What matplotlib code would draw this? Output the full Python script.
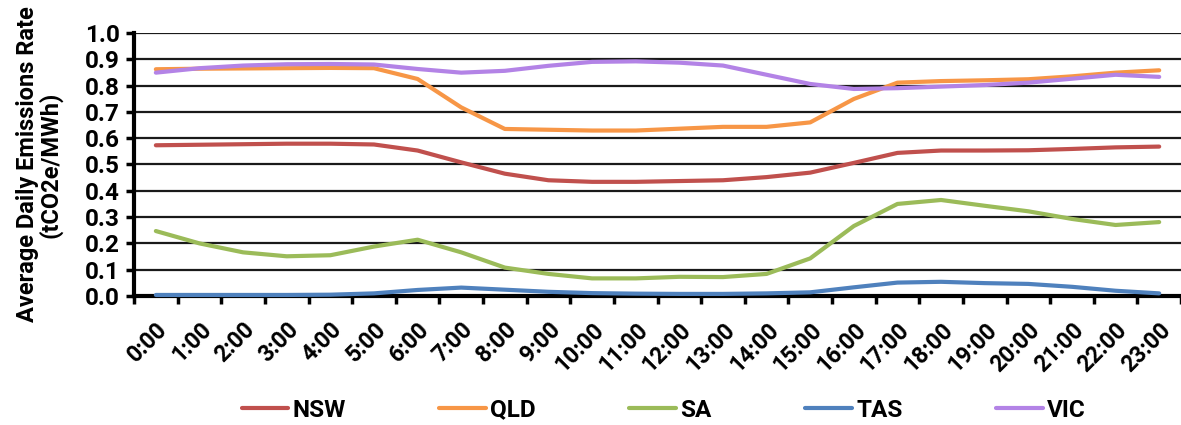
import matplotlib
matplotlib.use("Agg")
import matplotlib.pyplot as plt
from matplotlib.ticker import MultipleLocator, FixedLocator

plt.rcParams['font.family'] = ['Roboto', 'DejaVu Sans']

hours = [f"{h}:00" for h in range(24)]

nsw = [0.573, 0.575, 0.577, 0.579, 0.579, 0.576, 0.553, 0.508, 0.465, 0.440,
       0.434, 0.434, 0.437, 0.440, 0.452, 0.469, 0.506, 0.544, 0.553, 0.553,
       0.554, 0.559, 0.565, 0.568]
qld = [0.862, 0.864, 0.865, 0.866, 0.867, 0.866, 0.825, 0.717, 0.635, 0.632,
       0.629, 0.629, 0.636, 0.643, 0.643, 0.660, 0.749, 0.811, 0.817, 0.820,
       0.824, 0.835, 0.849, 0.858]
sa = [0.247, 0.200, 0.166, 0.151, 0.155, 0.188, 0.214, 0.166, 0.108, 0.084,
      0.067, 0.067, 0.073, 0.072, 0.084, 0.143, 0.266, 0.350, 0.365, 0.343,
      0.322, 0.293, 0.270, 0.281]
tas = [0.004, 0.004, 0.004, 0.004, 0.005, 0.010, 0.023, 0.032, 0.024, 0.016,
       0.011, 0.009, 0.008, 0.008, 0.010, 0.014, 0.033, 0.051, 0.054, 0.049,
       0.046, 0.035, 0.020, 0.010]
vic = [0.849, 0.866, 0.876, 0.881, 0.882, 0.880, 0.863, 0.849, 0.856, 0.875,
       0.890, 0.892, 0.887, 0.876, 0.841, 0.806, 0.787, 0.790, 0.796, 0.802,
       0.811, 0.826, 0.841, 0.833]

series = [("NSW", nsw, "#C0504D"),
          ("QLD", qld, "#F79646"),
          ("SA", sa, "#9BBB59"),
          ("TAS", tas, "#4F81BD"),
          ("VIC", vic, "#B383E6")]

fig = plt.figure(figsize=(11.81, 4.25), dpi=100)
ax = fig.add_axes([0.1135, 0.3035, 0.8865, 0.619])

x = list(range(len(hours)))
for name, vals, col in series:
    ax.plot(x, vals, color=col, lw=3.0, label=name, solid_capstyle='round',
            zorder=3, clip_on=False)

ax.set_xlim(-0.5, len(hours) - 0.5)
ax.set_ylim(0, 1.0)
ax.yaxis.set_major_locator(MultipleLocator(0.1))
ax.yaxis.set_major_formatter(matplotlib.ticker.FormatStrFormatter('%.1f'))
ax.grid(axis='y', color='#1a1a1a', lw=1.6)
ax.set_axisbelow(True)

ax.set_xticks(x)
ax.set_xticklabels(hours, rotation=45, ha='right', rotation_mode='anchor',
                   fontsize=16.5, fontweight='bold')
ax.tick_params(axis='x', which='major', length=0, pad=16)
ax.xaxis.set_minor_locator(FixedLocator([i - 0.5 for i in range(len(hours) + 1)]))
ax.tick_params(axis='x', which='minor', length=6, width=2.5, color='black')
ax.tick_params(axis='y', length=6, width=2.5, labelsize=17.5, pad=4)
for lbl in ax.get_yticklabels():
    lbl.set_fontweight('bold')

for s in ['top', 'right']:
    ax.spines[s].set_visible(False)
for s in ['left', 'bottom']:
    ax.spines[s].set_linewidth(3)
    ax.spines[s].set_color('black')

ax.set_ylabel("Average Daily Emissions Rate\n(tCO2e/MWh)", fontsize=17,
              fontweight='bold', labelpad=16, linespacing=1.0)

leg = fig.legend(loc='center', bbox_to_anchor=(0.562, 0.035), ncol=5,
                 frameon=False, handlelength=1.92, columnspacing=3.84,
                 handletextpad=0.18, prop={'weight': 'bold', 'size': 17.5})

fig.savefig("out.png", dpi=100)
